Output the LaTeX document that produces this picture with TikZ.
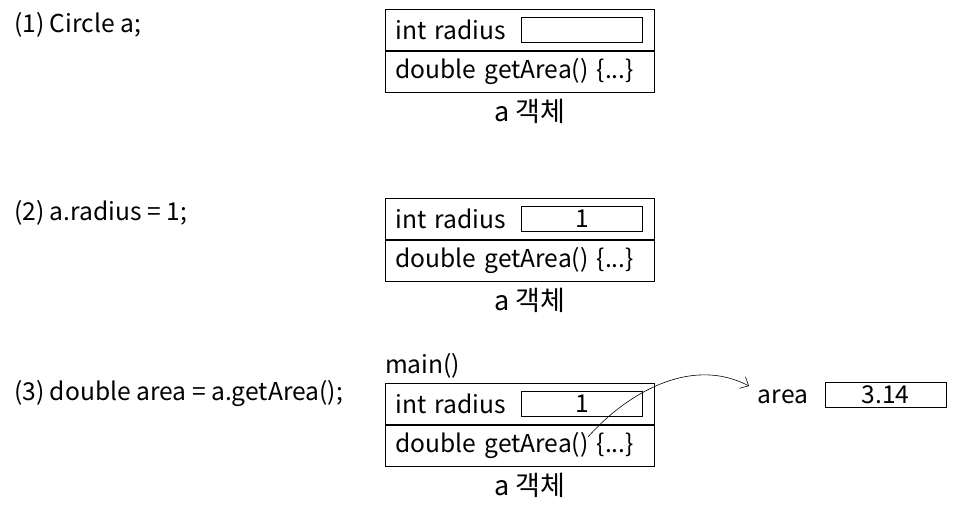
\documentclass[tikz,border=0pt]{standalone}
\usepackage{fontspec}
\setmainfont{Noto Sans CJK KR}
\usetikzlibrary{positioning,arrows.meta}

\begin{document}
\begin{tikzpicture}[x=1pt,y=-1pt,
    font=\fontsize{24.6pt}{28pt}\selectfont,
    row/.style={draw,line width=0.8pt,minimum width=269pt,minimum height=41pt,
        text width=249pt,inner xsep=10pt,inner ysep=0pt,align=left},
    valbox/.style={draw,line width=0.8pt,minimum width=121pt,minimum height=25pt,inner sep=0pt},
    code/.style={anchor=west,inner sep=0pt},
    objname/.style={inner sep=0pt,font=\fontsize{27pt}{30pt}\selectfont}]
\useasboundingbox (0,0) rectangle (959,512);

% statements
\node[code] (code1) at (14,25) {(1) Circle a;};
\node[code] (code2) at (14,213) {(2) a.radius = 1;};
\node[code] (code3) at (14,394) {(3) double area = a.getArea();};

% the object a, three times
\foreach \y/\v/\n in {9//1,198/1/2,383/1/3}{
    \node[row,anchor=north west] (top\n) at (385,\y) {int radius};
    \node[row,below=0pt of top\n] (bot\n) {double getArea() \{...\}};
    \node[valbox,left=12pt of top\n.east] (val\n) {\v};
    \node[objname,below=6pt of bot\n,xshift=10pt] (name\n) {a 객체};
}

\node[anchor=south west,inner sep=0pt] (main) at ([yshift=4pt]top3.north west) {main()};

% local variable
\node[inner sep=0pt] (arealbl) at (783,397) {area};
\node[valbox] (areaval) at (885.5,394.5) {3.14};

\coordinate (call) at (588,437);
\coordinate (ret) at (749,386);
\draw[-{Straight Barb[length=7pt,width=13pt]},line width=0.6pt] (call) .. controls (625,395) and (690,355) .. (ret);
\end{tikzpicture}
\end{document}
